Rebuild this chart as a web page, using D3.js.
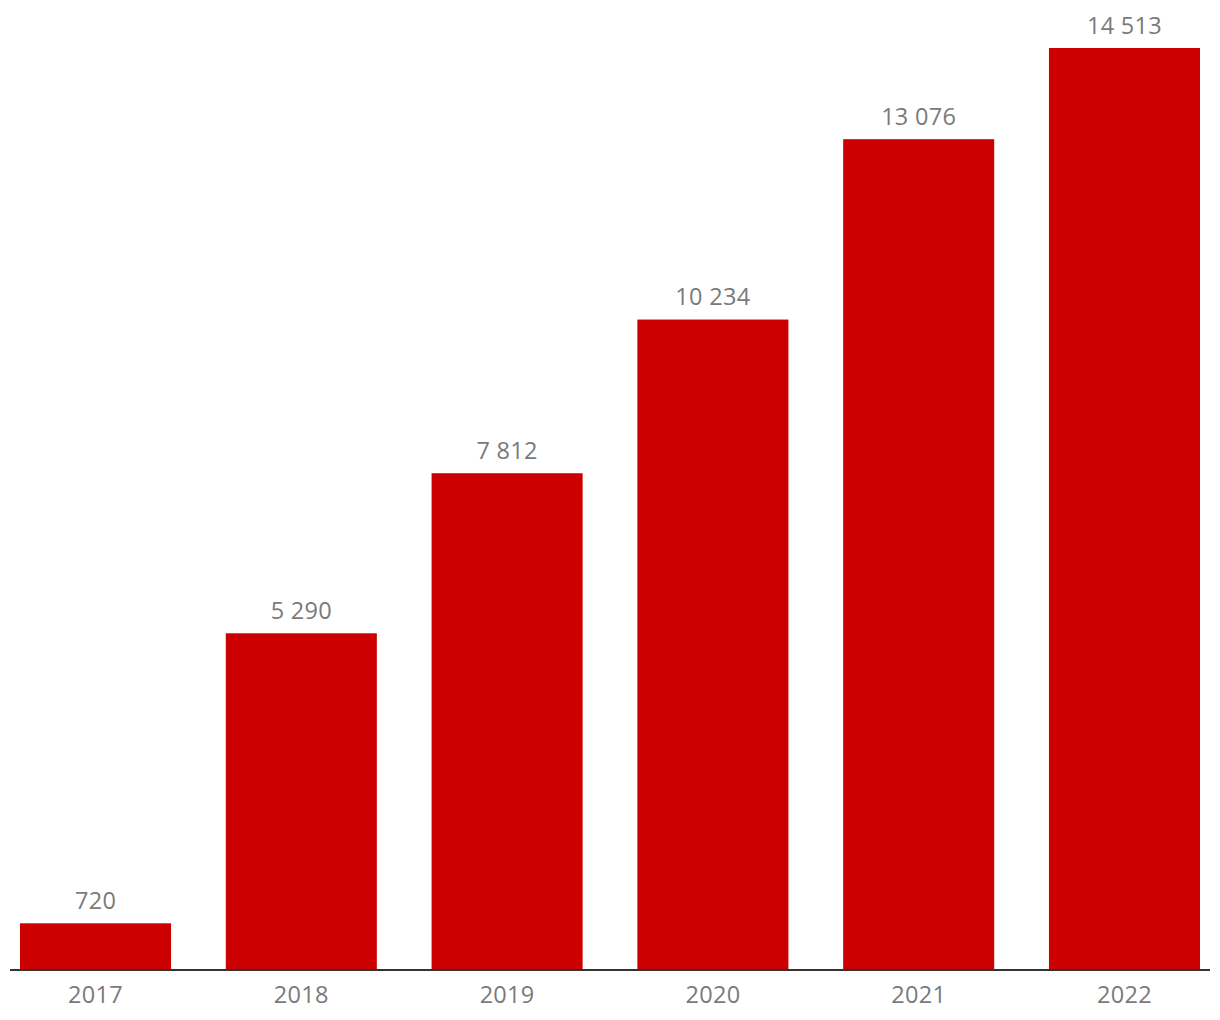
<!DOCTYPE html>
<html><head><meta charset="utf-8">
<script src="https://cdn.jsdelivr.net/npm/d3@7"></script>
<style>body{margin:0;background:#fff}svg{display:block}</style>
</head><body>
<svg id="c" width="1220" height="1020"></svg>
<script>
const categories = ["2017","2018","2019","2020","2021","2022"];
const values = [720, 5290, 7812, 10234, 13076, 14513];
const labels = ["720","5 290","7 812","10 234","13 076","14 513"];

const svg = d3.select("#c");
const x = d3.scaleBand().domain(categories).range([20,1200]).paddingInner(0.266).paddingOuter(0);
const y = d3.scaleLinear().domain([0,14513]).range([969,48]);
const font = "'Open Sans', sans-serif";

svg.selectAll("rect.bar").data(values).join("rect")
  .attr("x",(d,i)=>x(categories[i])).attr("width",x.bandwidth())
  .attr("y",d=>y(d)).attr("height",d=>y(0)-y(d)).attr("fill","#cc0000");

svg.selectAll("text.val").data(values).join("text")
  .attr("x",(d,i)=>x(categories[i])+x.bandwidth()/2).attr("y",d=>y(d)-14.5)
  .attr("text-anchor","middle").attr("font-family",font).attr("font-size",23.5)
  .attr("letter-spacing",0.3)
  .attr("fill","#7a7a7a").text((d,i)=>labels[i]);

const axis = svg.append("g").attr("transform","translate(0,970)")
  .call(d3.axisBottom(x).tickSize(0).tickPadding(0));
axis.select(".domain").remove();
axis.selectAll("text").attr("y",33).attr("dy",0).attr("font-family",font).attr("font-size",23.5)
  .attr("letter-spacing",0.3).attr("fill","#7a7a7a");
svg.append("line").attr("x1",10).attr("x2",1210).attr("y1",970).attr("y2",970).attr("stroke","#333").attr("stroke-width",2);
</script>
</body></html>
